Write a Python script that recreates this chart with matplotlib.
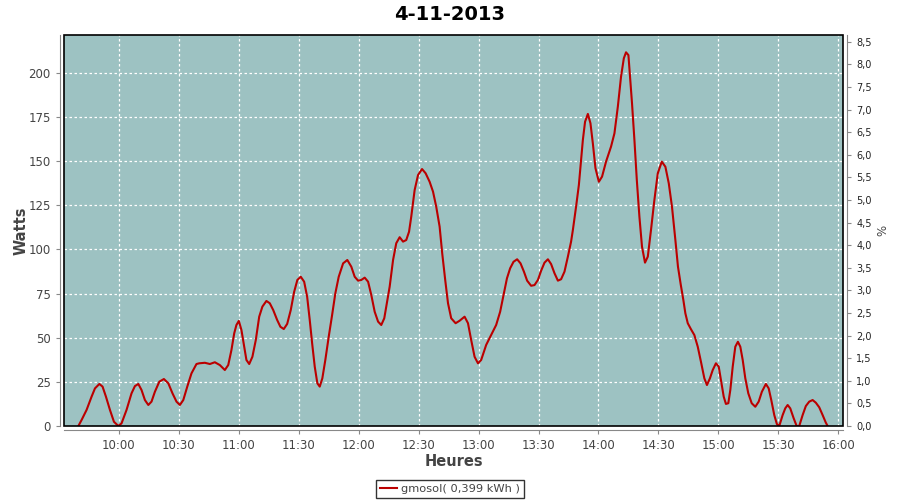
import matplotlib
matplotlib.use("Agg")
import matplotlib.pyplot as plt
import matplotlib.dates as mdates
from matplotlib.ticker import MultipleLocator, FuncFormatter
from matplotlib.patches import Rectangle
import pandas as pd

title = "4-11-2013"
day_start = "2013-11-04 10:00:00"
series_name = "gmosol( 0,399 kWh )"

# minutes after 10:00
minutes = [
    -20.3, -18.7, -16.2, -13.7, -12.0, -9.8, -8.2, -6.5, -4.5, -2.5, -0.3,
    1.3, 3.8, 6.3, 8.0, 9.7, 11.3, 13.0, 14.7, 16.3, 18.0, 20.2, 22.5, 24.7,
    26.8, 28.8, 30.5, 32.2, 34.2, 36.3, 38.8, 40.2, 43.0, 45.5, 48.0, 50.5,
    53.0, 54.7, 56.3, 57.7, 58.8, 60.0, 61.3, 62.7, 63.8, 65.2, 66.8, 68.5,
    70.2, 71.8, 73.8, 75.5, 77.2, 79.2, 80.8, 82.5, 84.2, 86.0, 87.7, 89.3,
    91.0, 92.7, 94.2, 95.5, 96.7, 98.0, 99.3, 100.5, 101.8, 103.3, 105.0,
    106.7, 108.3, 110.0, 112.2, 114.3, 116.3, 118.0, 119.7, 121.3, 123.0,
    124.7, 126.3, 128.0, 129.7, 131.3, 132.8, 133.8, 135.5, 137.2, 138.8,
    140.5, 142.2, 143.8, 145.2, 146.3, 148.0, 149.7, 151.7, 153.5, 155.5,
    157.2, 158.8, 160.5, 161.8, 163.3, 164.7, 166.3, 168.5, 170.5, 173.0,
    174.7, 176.3, 178.0, 179.7, 181.3, 183.8, 186.3, 188.8, 190.8, 192.5,
    194.2, 195.8, 197.5, 199.3, 201.0, 202.7, 204.3, 206.3, 208.0, 209.7,
    211.3, 213.0, 214.7, 216.3, 218.0, 219.7, 221.3, 223.0, 224.7, 226.3,
    227.2, 228.8, 230.2, 231.0, 232.2, 233.3, 234.7, 236.0, 237.2, 238.5,
    240.2, 241.8, 243.8, 246.3, 248.0, 249.7, 251.3, 252.7, 253.8, 255.0,
    255.8, 256.8, 258.0, 259.2, 260.5, 261.8, 263.3, 264.7, 266.3, 268.0,
    269.7, 271.7, 273.5, 275.2, 276.8, 278.5, 279.8, 281.2, 282.5, 283.5,
    284.7, 286.3, 288.0, 289.7, 291.3, 293.0, 294.3, 295.8, 297.2, 298.8,
    300.2, 301.3, 302.7, 303.8, 305.0, 306.0, 307.2, 308.5, 309.8, 311.0,
    312.2, 313.5, 315.0, 316.7, 318.5, 320.2, 321.8, 323.8, 325.2, 326.5,
    328.0, 329.3, 330.5, 332.2, 333.5, 334.7, 336.0, 337.7, 339.2, 340.5,
    342.2, 343.8, 345.5, 347.2, 348.8, 350.5, 352.2, 353.8, 354.7,
]

watts = [
    0.0, 3.4, 9.1, 16.6, 21.3, 23.8, 22.3, 16.6, 9.1, 2.4, 0.0,
    1.5, 9.1, 18.5, 22.6, 23.8, 20.4, 14.7, 11.9, 13.8, 19.4, 25.1, 26.6, 24.2,
    18.5, 13.8, 11.9, 14.7, 22.3, 29.8, 35.1, 35.5, 35.8, 35.1, 36.1, 34.5,
    31.7, 34.5, 43.0, 52.5, 57.2, 59.5, 54.4, 44.9, 37.4, 35.1, 39.2, 48.7,
    61.9, 67.6, 70.8, 69.5, 65.7, 60.0, 56.2, 54.9, 57.8, 65.7, 76.0, 82.7,
    84.5, 81.7, 73.2, 60.0, 46.8, 33.6, 24.2, 22.3, 27.0, 37.4, 50.6,
    62.9, 75.1, 84.5, 92.1, 94.0, 90.2, 84.5, 82.3, 82.7, 84.0,
    81.7, 74.2, 64.7, 59.1, 57.2, 61.0, 67.6, 78.9, 94.0, 103.5,
    106.9, 104.4, 105.3, 110.0, 118.5, 133.6, 142.1, 145.5, 143.1, 138.3,
    132.7, 124.2, 112.9, 97.8, 82.7, 69.5, 61.0, 58.2, 59.6, 61.9,
    58.2, 48.7, 39.2, 35.5, 37.4, 45.9, 51.5, 57.2, 64.7, 74.2,
    83.6, 89.3, 93.0, 94.4, 92.1, 87.4, 82.3, 79.4, 79.8, 82.7,
    87.9, 92.5, 94.4, 91.7, 86.5, 82.3, 83.1, 87.4, 95.9, 104.4,
    111.0, 124.2, 136.5, 146.8, 162.0, 172.3, 176.7, 171.4, 160.0, 146.0,
    138.3, 141.2, 149.7, 158.2, 165.7, 180.8, 197.8, 208.2, 211.6, 210.0,
    197.8, 182.7, 162.0, 139.3, 118.5, 101.5, 92.5, 95.9, 111.0, 128.0,
    143.1, 149.7, 146.8, 137.4, 124.2, 105.3, 90.2, 80.0, 71.3, 63.8,
    58.2, 54.8, 51.5, 44.9, 36.4, 27.0, 23.2, 27.0, 31.7, 35.5,
    33.6, 26.0, 16.6, 12.5, 12.9, 20.4, 33.6, 44.9, 47.7, 44.9,
    37.4, 27.0, 18.5, 12.9, 10.9, 13.8, 19.4, 23.8, 21.3, 14.7,
    6.2, 1.1, 0.0, 6.2, 10.0, 11.9, 10.0, 4.4, 0.0, 0.0,
    6.2, 11.3, 13.8, 14.7, 13.2, 10.6, 6.2, 1.9, 0.0,
]

x_start_min, x_end_min = -27.5, 362.4
y_max_watts = 221.4
y_max_pct = 8.65

t0 = pd.Timestamp(day_start)
x = t0 + pd.to_timedelta(minutes, unit="min")

plt.rcParams['font.family'] = ['DejaVu Sans']
fig = plt.figure(figsize=(9, 5), dpi=100)
fig.patch.set_facecolor("white")
ax = fig.add_axes([64 / 900, 74 / 500, (843 - 64) / 900, (426 - 35) / 500])
ax.set_facecolor("#9dc2c2")

ax.plot(x, watts, color="#bb0000", lw=1.5, solid_joinstyle="round", zorder=3,
        label=series_name)

ax.set_xlim(t0 + pd.Timedelta(minutes=x_start_min), t0 + pd.Timedelta(minutes=x_end_min))
ax.set_ylim(0, y_max_watts)
ax.xaxis.set_major_locator(mdates.MinuteLocator(byminute=[0, 30]))
ax.xaxis.set_major_formatter(mdates.DateFormatter("%H:%M"))
ax.yaxis.set_major_locator(MultipleLocator(25))
ax.grid(True, color="white", linestyle=(0, (2, 2)), linewidth=0.9)

tick_col = "#444444"
for s in ["left", "bottom"]:
    ax.spines[s].set_position(("outward", 3))
    ax.spines[s].set_color("#888888")
ax.spines["top"].set_visible(False)
ax.spines["right"].set_visible(False)
ax.add_patch(Rectangle((0, 0), 1, 1, transform=ax.transAxes, fill=False,
                       edgecolor="black", lw=1.2, zorder=5, clip_on=False))
ax.tick_params(axis="both", colors="#888888", labelcolor=tick_col, labelsize=8.5,
               length=3, width=0.8)
ax.set_ylabel("Watts", fontsize=10.5, color=tick_col, labelpad=0, fontweight="bold")
ax.set_xlabel("Heures", fontsize=10.5, color=tick_col, labelpad=1, fontweight="bold")

ax2 = ax.twinx()
ax2.set_ylim(0, y_max_pct)
ax2.yaxis.set_major_locator(MultipleLocator(0.5))
ax2.yaxis.set_major_formatter(FuncFormatter(lambda v, p: f"{v:.1f}".replace(".", ",")))
for s in ["left", "bottom", "top"]:
    ax2.spines[s].set_visible(False)
ax2.spines["right"].set_position(("outward", 3))
ax2.spines["right"].set_color("#888888")
ax2.tick_params(axis="y", colors="#888888", labelcolor="#222222", labelsize=7,
                length=3, width=0.8)
ax2.set_ylabel("%", fontsize=8.5, color=tick_col, labelpad=3)

fig.suptitle(title, fontsize=14, fontweight="bold", y=0.99)

handles, labels = ax.get_legend_handles_labels()
leg = fig.legend(handles, labels, loc="lower center", bbox_to_anchor=(0.5, -0.008),
                 fontsize=8.2, frameon=True, fancybox=False, handlelength=1.5,
                 handletextpad=0.3, borderpad=0.35, labelcolor=tick_col)
leg.get_frame().set_edgecolor("black")
leg.get_frame().set_linewidth(1.0)

fig.savefig("out.png", dpi=100)
